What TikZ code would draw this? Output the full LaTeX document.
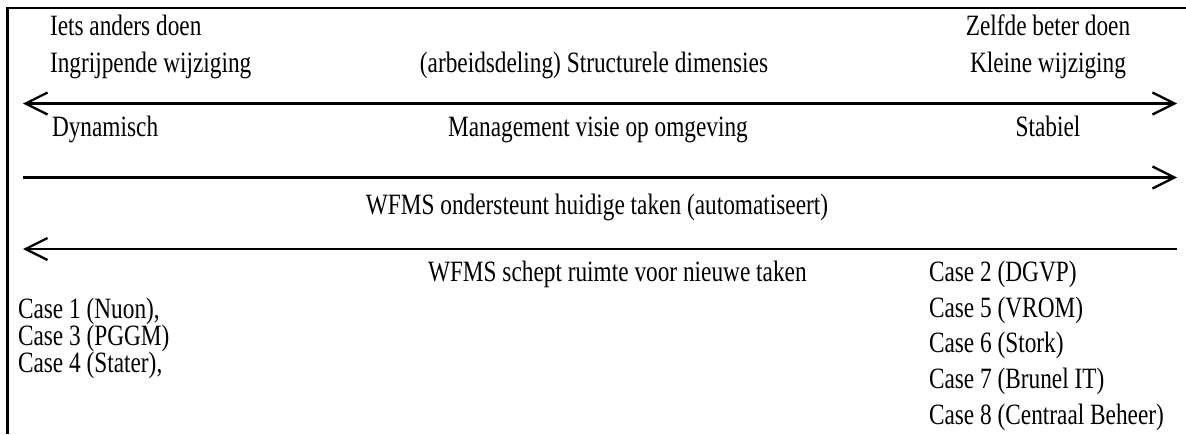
\documentclass[tikz,border=0pt]{standalone}
\usepackage{fontspec}
\usetikzlibrary{arrows.meta}
\newfontfamily\labelfont[FakeStretch=0.79]{Liberation Serif}
\tikzset{
  lbl/.style={font=\labelfont\fontsize{29.5}{29.5}\selectfont, inner sep=0pt, outer sep=0pt},
  frameline/.style={line width=2.7pt},
  axis/.style={line width=2.3pt},
  barb/.tip={Straight Barb[length=22pt,width=22pt]}
}
\begin{document}
\begin{tikzpicture}[x=1pt,y=-1pt]
\useasboundingbox (0,0) rectangle (1186,434);

% open frame: left and top edge
\draw[frameline] (7.5,434) -- (7.5,8) -- (1186,8);

% axis end points
\coordinate (a1l) at (23,103.5);  \coordinate (a1r) at (1177,103.5);
\coordinate (a2l) at (23,177.5);  \coordinate (a2r) at (1177,177.5);
\coordinate (a3l) at (23,249);    \coordinate (a3r) at (1177,249);

\draw[axis, barb-barb] (a1l) -- (a1r);
\draw[axis, -barb] (a2l) -- (a2r);
\draw[axis, barb-] (a3l) -- (a3r);

% left column
\node[lbl, anchor=base west] (iets) at (50,35) {Iets anders doen};
\node[lbl, anchor=base west] (ingr) at (50,72) {Ingrijpende wijziging};
\node[lbl, anchor=base west] (dyn) at (52,136) {Dynamisch};

% middle column
\node[lbl, anchor=base] (struct) at (594,72) {(arbeidsdeling) Structurele dimensies};
\node[lbl, anchor=base] (mgmt) at (598,136) {Management visie op omgeving};
\node[lbl, anchor=base] (onder) at (597,214) {WFMS ondersteunt huidige taken (automatiseert)};
\node[lbl, anchor=base west] (schept) at (428,281) {WFMS schept ruimte voor nieuwe taken};

% right column
\node[lbl, anchor=base] (zelf) at (1048,35) {Zelfde beter doen};
\node[lbl, anchor=base] (klein) at (1048,72) {Kleine wijziging};
\node[lbl, anchor=base] (stab) at (1048,136) {Stabiel};

% cases, left group
\node[lbl, anchor=base west] (c1) at (18,318) {Case 1 (Nuon),};
\node[lbl, anchor=base west] (c3) at (18,345) {Case 3 (PGGM)};
\node[lbl, anchor=base west] (c4) at (18,372) {Case 4 (Stater),};

% cases, right group
\node[lbl, anchor=base west] (c2) at (929,281) {Case 2 (DGVP)};
\node[lbl, anchor=base west] (c5) at (929,317) {Case 5 (VROM)};
\node[lbl, anchor=base west] (c6) at (929,352) {Case 6 (Stork)};
\node[lbl, anchor=base west] (c7) at (929,388) {Case 7 (Brunel IT)};
\node[lbl, anchor=base west] (c8) at (929,424) {Case 8 (Centraal Beheer)};
\end{tikzpicture}
\end{document}
